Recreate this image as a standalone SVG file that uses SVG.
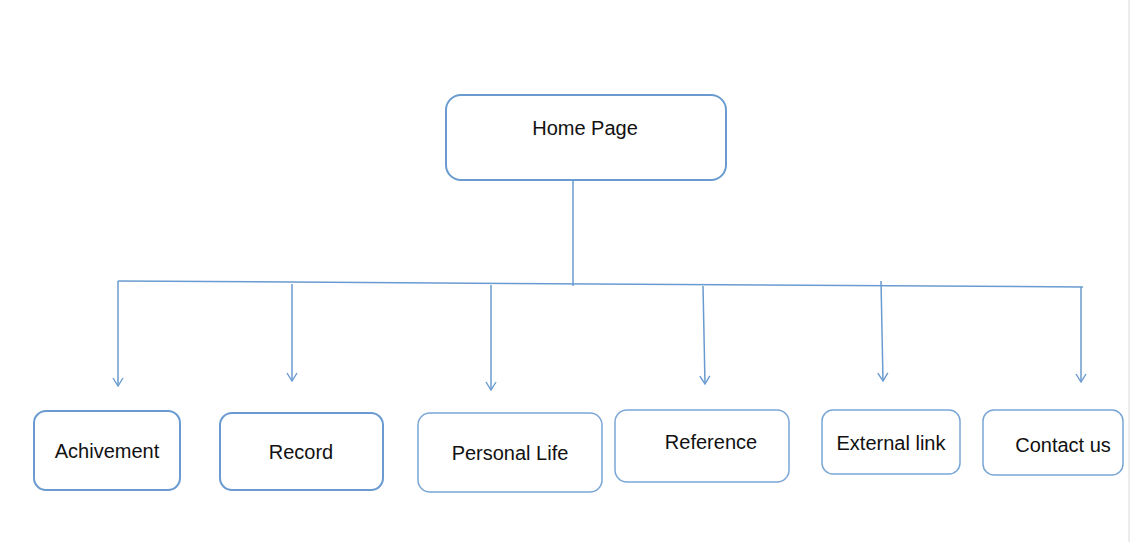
<svg xmlns="http://www.w3.org/2000/svg" width="1133" height="542" viewBox="0 0 1133 542">
<defs>
<marker id="arr" viewBox="0 0 12 12" refX="11" refY="6" markerWidth="12" markerHeight="12" markerUnits="userSpaceOnUse" orient="auto">
<path d="M3,1 L11,6 L3,11" fill="none" stroke="#6a9bd0" stroke-width="1.4"/>
</marker>
<style>
.box{fill:#fff;stroke:#6a9bd0;stroke-width:2}
.box2{fill:#fff;stroke:#7aa6d6;stroke-width:1.5}
.lbl{font-family:"Liberation Sans",Arial,sans-serif;font-size:20px;fill:#111;text-anchor:middle;dominant-baseline:central}
.ln{stroke:#6a9bd0;stroke-width:1.5;fill:none}
</style>
</defs>
<rect width="1133" height="542" fill="#fff"/>
<line x1="1129" y1="0" x2="1129" y2="542" stroke="#d8d8d8" stroke-width="1"/>
<g id="connectors">
<line class="ln" x1="573" y1="180" x2="573" y2="286"/>
<line class="ln" x1="118" y1="281" x2="1083" y2="287"/>
<line class="ln" x1="118" y1="281" x2="118" y2="386" marker-end="url(#arr)"/>
<line class="ln" x1="292" y1="284" x2="292" y2="381" marker-end="url(#arr)"/>
<line class="ln" x1="491" y1="285" x2="491" y2="390" marker-end="url(#arr)"/>
<line class="ln" x1="703" y1="286" x2="705" y2="384" marker-end="url(#arr)"/>
<line class="ln" x1="881" y1="281" x2="883" y2="381" marker-end="url(#arr)"/>
<line class="ln" x1="1081" y1="287" x2="1081" y2="382" marker-end="url(#arr)"/>
</g>
<g id="home">
<rect class="box" x="446" y="95" width="280" height="85" rx="15"/>
<text class="lbl" x="585" y="128">Home Page</text>
</g>
<g id="achivement">
<rect class="box" x="34" y="411" width="146" height="79" rx="12"/>
<text class="lbl" x="107" y="451">Achivement</text>
</g>
<g id="record">
<rect class="box" x="220" y="413" width="163" height="77" rx="12"/>
<text class="lbl" x="301" y="452">Record</text>
</g>
<g id="personal">
<rect class="box2" x="418" y="413" width="184" height="79" rx="12"/>
<text class="lbl" x="510" y="453">Personal Life</text>
</g>
<g id="reference">
<rect class="box2" x="615" y="410" width="174" height="72" rx="12"/>
<text class="lbl" x="711" y="442">Reference</text>
</g>
<g id="external">
<rect class="box2" x="822" y="410" width="138" height="64" rx="11"/>
<text class="lbl" x="891" y="443">External link</text>
</g>
<g id="contact">
<rect class="box2" x="983" y="410" width="140" height="65" rx="11"/>
<text class="lbl" x="1063" y="445">Contact us</text>
</g>
</svg>
